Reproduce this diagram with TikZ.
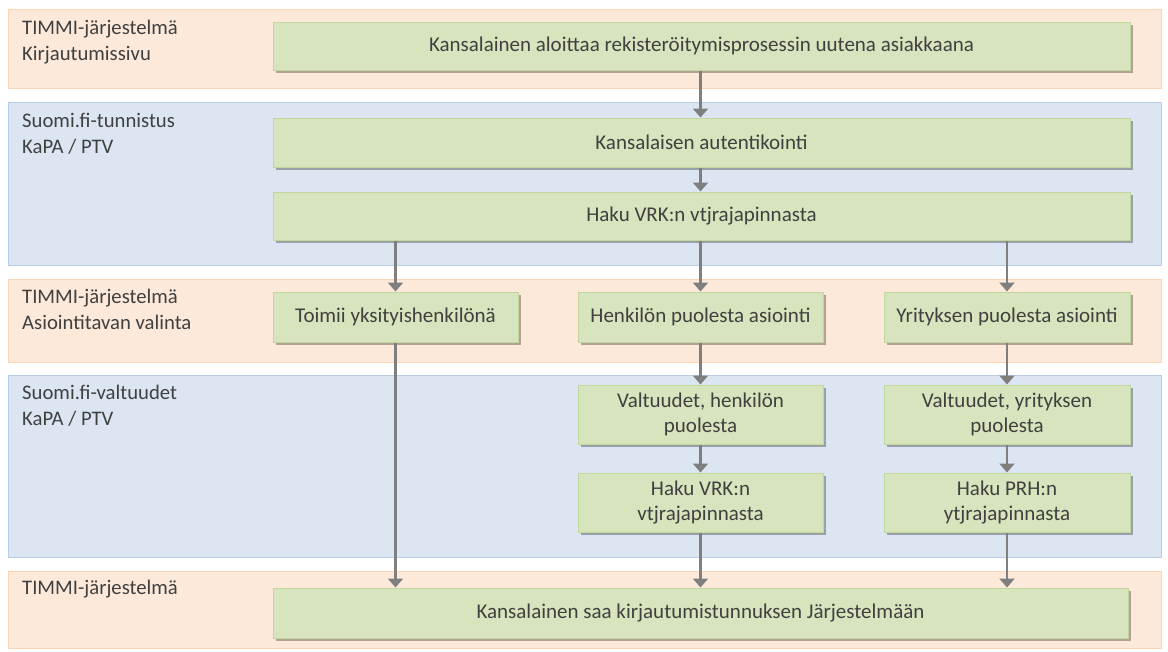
\documentclass[tikz,border=0pt]{standalone}
\usepackage{fontspec}
\setmainfont{Carlito}
\usetikzlibrary{arrows.meta,shadows}
\definecolor{bandO}{HTML}{FDE9D9}
\definecolor{bandOb}{HTML}{FBD5B5}
\definecolor{bandB}{HTML}{DCE6F2}
\definecolor{bandBb}{HTML}{B9CDE5}
\definecolor{boxG}{HTML}{D7E4BD}
\definecolor{boxGb}{HTML}{C3D69B}
\definecolor{txt}{HTML}{404040}
\definecolor{arr}{HTML}{7F7F7F}
\tikzset{
  bandorange/.style={draw=bandOb, fill=bandO, line width=1pt},
  bandblue/.style={draw=bandBb, fill=bandB, line width=1pt},
  bandlabel/.style={anchor=north west, align=left, inner sep=0pt, text=txt, font=\fontsize{20.7}{25.5}\selectfont},
  procbox/.style={draw=boxGb, fill=boxG, line width=1pt, text=txt, align=center, inner sep=0pt,
     font=\fontsize{21}{25}\selectfont,
     drop shadow={shadow xshift=2.5pt, shadow yshift=-2.5pt, opacity=0.3, fill=black}},
  flow/.style={draw=arr, line width=2.6pt, -{Triangle[width=15pt,length=9pt]}},
}
\begin{document}
\begin{tikzpicture}[x=1pt,y=-1pt]
\useasboundingbox (0,0) rectangle (1168,651);
% bands
\draw[bandorange] (8,9) rectangle (1161,88);
\draw[bandblue] (8,102) rectangle (1161,265);
\draw[bandorange] (8,279) rectangle (1161,362);
\draw[bandblue] (8,375) rectangle (1161,557);
\draw[bandorange] (8,571) rectangle (1161,648);
% band labels
\node[bandlabel] (l1) at (22,20) {TIMMI-järjestelmä\\Kirjautumissivu};
\node[bandlabel] (l2) at (22,113) {Suomi.fi-tunnistus\\KaPA / PTV};
\node[bandlabel] (l3) at (22,289) {TIMMI-järjestelmä\\Asiointitavan valinta};
\node[bandlabel] (l4) at (22,385) {Suomi.fi-valtuudet\\KaPA / PTV};
\node[bandlabel] (l5) at (22,580) {TIMMI-järjestelmä};
% boxes
\node[procbox, minimum width=857pt, minimum height=48pt] (n1) at (701.5,46) {Kansalainen aloittaa rekisteröitymisprosessin uutena asiakkaana};
\node[procbox, minimum width=857pt, minimum height=49pt] (n2) at (701.5,142.5) {Kansalaisen autentikointi};
\node[procbox, minimum width=857pt, minimum height=48pt] (n3) at (701.5,216) {Haku VRK:n vtjrajapinnasta};
\node[procbox, minimum width=245pt, minimum height=50pt] (n4) at (395.5,317) {Toimii yksityishenkilönä};
\node[procbox, minimum width=245pt, minimum height=50pt] (n5) at (700.5,317) {Henkilön puolesta asiointi};
\node[procbox, minimum width=246pt, minimum height=50pt] (n6) at (1007,317) {Yrityksen puolesta asiointi};
\node[procbox, minimum width=245pt, minimum height=59pt] (n7) at (700.5,414.5) {Valtuudet, henkilön\\puolesta};
\node[procbox, minimum width=245pt, minimum height=59pt] (n8) at (700.5,502.5) {Haku VRK:n\\vtjrajapinnasta};
\node[procbox, minimum width=246pt, minimum height=59pt] (n9) at (1007,414.5) {Valtuudet, yrityksen\\puolesta};
\node[procbox, minimum width=246pt, minimum height=59pt] (n10) at (1007,502.5) {Haku PRH:n\\ytjrajapinnasta};
\node[procbox, minimum width=855pt, minimum height=50pt] (n11) at (700.5,613) {Kansalainen saa kirjautumistunnuksen Järjestelmään};
% connectors
\draw[flow] (n5.north |- n1.south) -- (n5.north |- n2.north);
\draw[flow] (n5.north |- n2.south) -- (n5.north |- n3.north);
\draw[flow] (n4.north |- n3.south) -- (n4.north);
\draw[flow] (n5.north |- n3.south) -- (n5.north);
\draw[flow] (n6.north |- n3.south) -- (n6.north);
\draw[flow] (n5.south) -- (n7.north);
\draw[flow] (n7.south) -- (n8.north);
\draw[flow] (n6.south) -- (n9.north);
\draw[flow] (n9.south) -- (n10.north);
\draw[flow] (n4.south) -- (n4.south |- n11.north);
\draw[flow] (n8.south) -- (n8.south |- n11.north);
\draw[flow] (n10.south) -- (n10.south |- n11.north);
\end{tikzpicture}
\end{document}
